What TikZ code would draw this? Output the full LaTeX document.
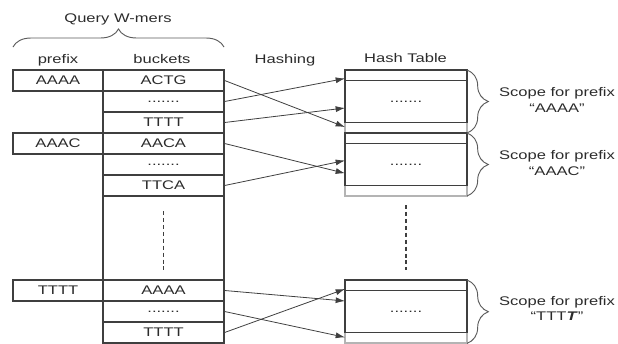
\documentclass[tikz,border=0pt]{standalone}
\usepackage{fontspec}
\setmainfont{Liberation Sans}[FakeStretch=1.32]
\usetikzlibrary{arrows.meta,decorations.pathreplacing}
\definecolor{ink}{HTML}{2B2B2B}
\definecolor{rule}{HTML}{3F3F3F}
\definecolor{faint}{HTML}{B4B4B4}
\begin{document}
\begin{tikzpicture}[x=0.75pt,y=-0.75pt,
  lbl/.style={font=\fontsize{9.4}{11.5}\selectfont, text=ink, inner sep=0pt},
  cell/.style={draw=rule, line width=0.9pt, inner sep=0pt,
               font=\fontsize{9.4}{11.5}\selectfont, text=ink},
  bucket/.style={cell, minimum width=90.75pt, minimum height=15.75pt},
  prefixcell/.style={cell, minimum width=67.5pt, minimum height=15.75pt},
  slot/.style={cell, minimum width=91.5pt, minimum height=8pt},
  body/.style={cell, minimum width=91.5pt, minimum height=31.2pt},
  spare/.style={cell, draw=faint, minimum width=91.5pt, minimum height=8pt},
  link/.style={draw=rule, line width=0.6pt, -{Latex[length=7pt,width=4.5pt]}},
  gap/.style={draw=rule, line width=0.9pt, dash pattern=on 3pt off 2.2pt},
  curly/.style={draw=rule!85, line width=0.7pt, decorate,
                decoration={brace, amplitude=#1}},
]
\useasboundingbox (0,0) rectangle (618,343);

% headings
\node[lbl, anchor=base] (qw) at (118,22.7) {Query W-mers};
\draw[curly=13.5pt] (13,47) -- (224,47);
\node[lbl, anchor=base] (hpre) at (58,63) {prefix};
\node[lbl, anchor=base] (hbuc) at (162,63) {buckets};
\node[lbl, anchor=base] (hhash) at (285,63) {Hashing};
\node[lbl, anchor=base] (htab) at (405.5,62.5) {Hash Table};

% prefixes
\node[prefixcell] (p1) at (58,80.5) {AAAA};
\node[prefixcell] (p2) at (58,143.5) {AAAC};
\node[prefixcell] (p3) at (58,290.5) {TTTT};

% buckets
\node[bucket] (b1) at (163.5,80.5) {ACTG};
\node[bucket] (b2) at (163.5,101.5) {.......};
\node[bucket] (b3) at (163.5,122.5) {TTTT};
\node[bucket] (b4) at (163.5,143.5) {AACA};
\node[bucket] (b5) at (163.5,164.5) {.......};
\node[bucket] (b6) at (163.5,185.5) {TTCA};
\node[bucket, minimum height=63pt] (bgap) at (163.5,238) {};
\node[bucket] (b7) at (163.5,290.5) {AAAA};
\node[bucket] (b8) at (163.5,311.5) {.......};
\node[bucket] (b9) at (163.5,332.5) {TTTT};
\draw[gap] (163.5,211) -- (163.5,270);

% hash table: spare strips first so the darker rules lie on top
\node[spare] (h1c) at (406,127.65) {};
\node[spare] (h2c) at (406,190.65) {};
\node[spare] (h3c) at (406,337.65) {};
\node[slot] (h1a) at (406,75.35) {};
\node[body] (h1b) at (406,101.5) {.......};
\node[slot] (h2a) at (406,138.35) {};
\node[body] (h2b) at (406,164.5) {.......};
\node[slot] (h3a) at (406,285.35) {};
\node[body] (h3b) at (406,311.5) {.......};
\draw[gap] (406,205) -- (406,270);

% entry points on the table's left side
\coordinate (t1) at (345,78.5);
\coordinate (t2) at (345,108);
\coordinate (t3) at (345,127);
\coordinate (t4) at (345,160.5);
\coordinate (t5) at (345,173.3);
\coordinate (t6) at (345,289);
\coordinate (t7) at (345,301);
\coordinate (t8) at (345,337.3);

% hashing links
\draw[link] (b1.east) -- (t3);
\draw[link] (b2.east) -- (t1);
\draw[link] (b3.east) -- (t2);
\draw[link] (b4.east) -- (t5);
\draw[link] (b6.east) -- (t4);
\draw[link] (b7.east) -- (t7);
\draw[link] (b8.east) -- (t8);
\draw[link] (b9.east) -- (t6);

% scopes (base anchor sits on the second line)
\draw[curly=16pt] (467,70) -- (467,133);
\draw[curly=16pt] (467,133) -- (467,196);
\draw[curly=16pt] (467,280) -- (467,343.4);
\node[lbl, anchor=base, align=center] (s1) at (557,112) {Scope for prefix\\“AAAA”};
\node[lbl, anchor=base, align=center] (s2) at (557,175) {Scope for prefix\\“AAAC”};
\node[lbl, anchor=base, align=center] (s3) at (557,320.5) {Scope for prefix\\“TTT\textit{\textbf{T}}”};
\end{tikzpicture}
\end{document}
